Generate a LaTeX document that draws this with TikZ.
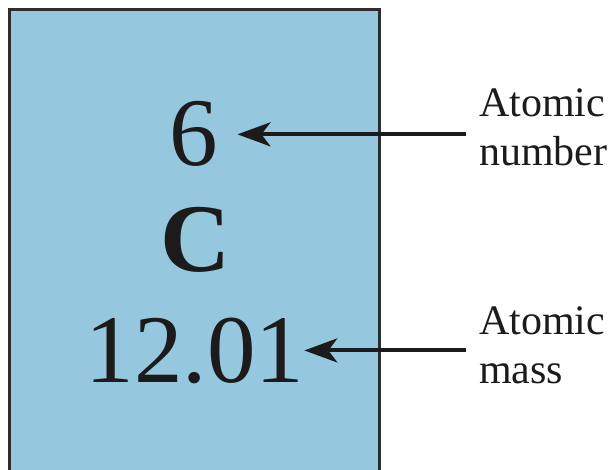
\documentclass[tikz,border=0pt]{standalone}
\usepackage{fontspec}
\setmainfont{Liberation Serif}
\usetikzlibrary{arrows.meta}
\definecolor{cellblue}{RGB}{149,200,222}
\definecolor{edgegray}{RGB}{45,45,45}
\definecolor{ink}{RGB}{28,26,26}
\begin{document}
\begin{tikzpicture}[x=1pt,y=-1pt,
  cell/.style={fill=cellblue,draw=edgegray,line width=2.8pt},
  big/.style={font=\fontsize{97}{97}\selectfont,text=ink,inner sep=0pt,anchor=base},
  lbl/.style={font=\fontsize{42}{49}\selectfont,text=ink,align=left,anchor=north west,inner xsep=13pt,inner ysep=0pt},
  arr/.style={-{Stealth[length=33pt,width=24pt,inset=9pt]},line width=4pt,draw=ink}]
\useasboundingbox (0,0) rectangle (613,470);
\clip (0,0) rectangle (613,470);
\draw[cell] (9.5,490) -- (9.5,9.5) -- (379.5,9.5) -- (379.5,490) -- cycle;
\node[big, inner xsep=19pt] (six) at (194,166) {6};
\node[big, font=\fontsize{97}{97}\selectfont\bfseries] (sym) at (196,272) {C};
\node[big] (mass) at (195,382) {12.01};
\node[lbl] (lab1) at (466,88) {Atomic\\number};
\node[lbl] (lab2) at (466,306) {Atomic\\mass};
\draw[arr] (lab1.west |- six.east) -- (six.east);
\draw[arr] (lab2.west |- mass.east) -- (mass.east);
\end{tikzpicture}
\end{document}
